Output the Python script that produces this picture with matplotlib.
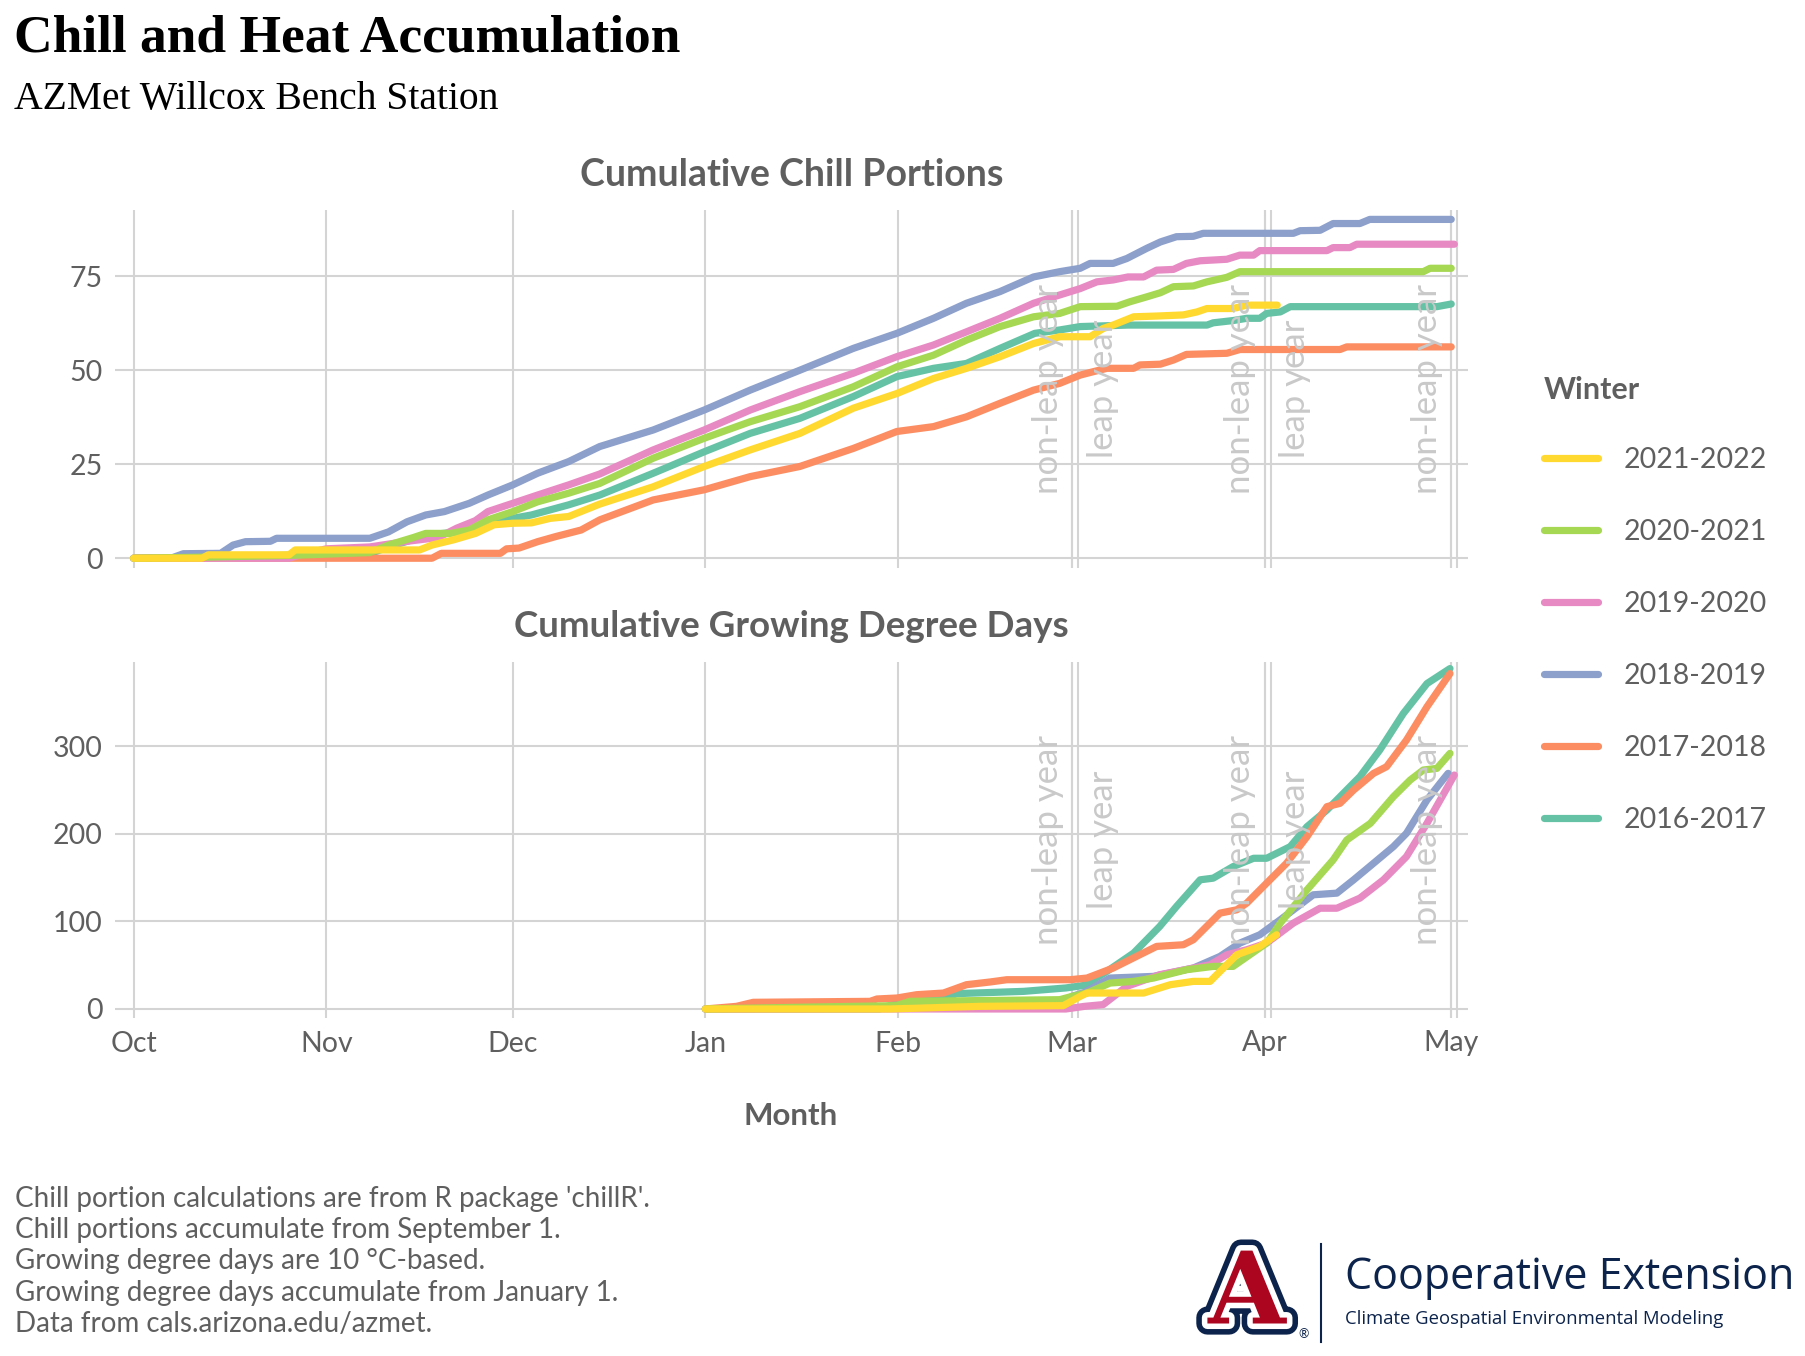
import matplotlib
matplotlib.use("Agg")
import matplotlib.pyplot as plt
import matplotlib.patheffects as pe
from matplotlib.lines import Line2D

plt.rcParams['font.family'] = ['Lato', 'DejaVu Sans']

W, H = 1806, 1356
def fx(px):
    return px / W
def fy(py):
    return 1 - py / H

# ---- data (x = days since Oct 1, non-leap reference year) ----
winters = ["2016-2017", "2017-2018", "2018-2019", "2019-2020", "2020-2021", "2021-2022"]
colors = ["#66c2a5", "#fc8d62", "#8da0cb", "#e78ac3", "#a6d854", "#ffd92f"]

month_days = [0, 31, 61, 92, 123, 151, 182, 212]
month_labels = ["Oct", "Nov", "Dec", "Jan", "Feb", "Mar", "Apr", "May"]
nonleap_days = [151, 182, 212]
leap_days = [152, 183, 213]

# cumulative chill portions
cp_days_2016 = [0, 12, 26, 38, 41, 45, 48, 51, 54, 57, 61, 64, 70, 75, 83.6, 91.8, 99.2, 107.2, 115.8, 122.8, 128.7, 134, 139.4, 145, 149, 152.3, 160, 172.7, 173.7, 176.9, 179.1, 181.2, 182.3, 184.5, 186.1, 209.7, 212]
cp_vals_2016 = [0, 0.3, 0.8, 1.2, 3, 5, 6.3, 6.8, 7.5, 9.2, 10.6, 11.5, 14.2, 16.8, 22.6, 28.3, 33.2, 37.2, 43, 48.3, 50.5, 51.8, 55.8, 59.8, 60.7, 61.6, 62, 62, 62.6, 63.2, 63.8, 63.8, 65.1, 65.5, 66.9, 66.9, 67.6]

cp_days_2017 = [0, 48, 49.5, 59, 60, 62, 65, 68, 72, 75, 83.6, 91.8, 99.2, 107.2, 115.8, 122.8, 128.7, 134, 139.4, 144.8, 149, 152.3, 154.4, 156.6, 160.9, 161.9, 165.2, 167.3, 169.4, 175.9, 178, 194.1, 195.2, 212]
cp_vals_2017 = [0, 0, 1.3, 1.3, 2.5, 2.7, 4.4, 5.8, 7.5, 10.2, 15.5, 18.2, 21.7, 24.4, 29.2, 33.7, 35, 37.6, 41.2, 44.7, 46.5, 48.7, 49.6, 50.5, 50.5, 51.4, 51.6, 52.7, 54.2, 54.5, 55.5, 55.5, 56.2, 56.2]

cp_days_2018 = [0, 6, 8, 14, 16, 18, 22, 23, 38, 41, 44, 47, 50, 54, 57, 61, 65, 70, 75, 83.6, 91.8, 99.2, 107.2, 115.8, 122.8, 128.7, 134, 139.4, 144.8, 149, 152.3, 153.9, 157.6, 159.8, 163, 165.2, 167.8, 170.5, 172.1, 186.6, 187.7, 190.9, 193, 197.3, 198.9, 212]
cp_vals_2018 = [0, 0, 1.2, 1.3, 3.5, 4.4, 4.5, 5.3, 5.3, 7, 9.7, 11.5, 12.4, 14.6, 16.8, 19.5, 22.6, 25.7, 29.7, 34.1, 39.4, 44.7, 50, 55.8, 59.8, 63.8, 67.8, 70.9, 74.8, 76.2, 77.1, 78.4, 78.4, 79.7, 82.4, 84.1, 85.5, 85.6, 86.4, 86.4, 87.1, 87.2, 89, 89, 90.1, 90.1]

cp_days_2019 = [0, 25, 27, 31, 38, 44, 49, 52, 55, 57, 61, 65, 70, 75, 83.6, 91.8, 99.2, 107.2, 115.8, 122.8, 128.7, 134, 139.4, 144.8, 149, 152.3, 155, 157.6, 160, 162.5, 164.6, 167.3, 169.4, 171.6, 175.9, 178, 180.2, 181.2, 192, 193, 195.7, 196.8, 212.5]
cp_vals_2019 = [0, 0, 1, 2.5, 3, 4.5, 5.5, 8, 10, 12.4, 14.6, 16.8, 19.5, 22.4, 28.8, 34.1, 39.4, 44.3, 49.2, 53.6, 56.7, 60.2, 63.8, 67.8, 70, 71.7, 73.5, 74, 74.8, 74.8, 76.6, 76.8, 78.4, 79.1, 79.5, 80.6, 80.6, 81.8, 81.8, 82.6, 82.6, 83.5, 83.5]

cp_days_2020 = [0, 12, 26, 38, 41, 45, 47, 51, 54, 57, 61, 65, 70, 75, 83.6, 91.8, 99.2, 107.2, 115.8, 122.8, 128.7, 134, 139.4, 144.8, 149, 152.3, 158.2, 160.3, 163, 165.2, 167.3, 170.5, 172.7, 175.9, 178, 207.5, 208.6, 212]
cp_vals_2020 = [0, 0.3, 0.8, 1.5, 3.5, 5.5, 6.6, 6.6, 7.5, 10.2, 12.4, 15, 17.3, 19.9, 26.6, 31.9, 36.3, 40.3, 45.6, 50.9, 54, 58, 61.6, 64.2, 65.1, 66.9, 67, 68.2, 69.5, 70.6, 72.2, 72.4, 73.5, 74.7, 76.2, 76.2, 77.1, 77.1]

cp_days_2021 = [0, 11, 12, 25, 26, 46, 48, 51.5, 55, 58, 61, 64, 67, 70, 75, 83.6, 91.8, 99.2, 107.2, 115.8, 122.8, 128.7, 134, 139.4, 144.8, 149, 153.9, 156, 157.6, 160.9, 164.6, 168.9, 171.1, 172.7, 176.9, 179.1, 184]
cp_vals_2021 = [0, 0, 0.9, 0.9, 2.2, 2.2, 3.5, 4.9, 6.6, 8.9, 9.3, 9.4, 10.6, 11.1, 14.4, 19, 24.4, 28.8, 33.2, 39.9, 43.8, 47.8, 50.5, 53.6, 57.1, 58.9, 58.9, 61.1, 62, 64.2, 64.4, 64.7, 65.5, 66.4, 66.4, 67.3, 67.3]

# cumulative growing degree days (from Jan 1)
gdd_days_2016 = [92, 120, 122.8, 130.3, 132.4, 143.2, 150, 153, 156.6, 160.9, 165.1, 167.8, 171.6, 173.7, 176.9, 180.2, 182.3, 186.1, 188.8, 192, 197.3, 200.5, 204.3, 208.1, 211.8]
gdd_vals_2016 = [0, 0, 6.8, 11.4, 17.5, 20.1, 24, 27, 42.9, 63.8, 94.2, 117, 147.4, 149.3, 162.5, 172, 172, 185.3, 208.1, 227.1, 265.1, 295.5, 337.3, 371.4, 388.5]

gdd_days_2017 = [92, 97, 99.7, 118.5, 119.6, 122.8, 126, 130.3, 134, 137.8, 140.5, 150.7, 153.4, 157.6, 161.9, 164.6, 168.9, 170.5, 174.8, 177.5, 179.1, 182.3, 185.5, 188.8, 192, 194.1, 196.3, 199.5, 201.6, 204.8, 208.1, 211.8]
gdd_vals_2017 = [0, 3, 7.6, 8.7, 11.4, 12.5, 16.3, 18.2, 27.7, 30.8, 33.4, 33.4, 35.3, 46.7, 61.9, 71.4, 73.3, 79, 109.4, 113.2, 120.8, 143.6, 166.3, 196.7, 230.9, 234.7, 249.9, 268.9, 276.5, 306.9, 344.9, 382.8]

gdd_days_2018 = [92, 125, 140, 149, 151, 153, 157.1, 164.1, 170.5, 174.8, 178, 181.2, 184.5, 189.8, 193.6, 196.3, 199.5, 202.7, 204.8, 208.1, 210.2, 211.5]
gdd_vals_2018 = [0, 1, 3, 5, 14.4, 19, 35.3, 37.2, 46.7, 60, 75.2, 84.7, 101.8, 130.3, 132.2, 147.4, 166.3, 185.3, 200.5, 238.5, 257.5, 268.9]

gdd_days_2019 = [92, 150, 153, 156, 159.8, 165.1, 167.8, 173.2, 175.9, 179.1, 182.3, 186.6, 190.9, 193.6, 197.3, 201.1, 204.8, 208.1, 212.5]
gdd_vals_2019 = [0, 0, 3, 5, 25.8, 39.1, 42.9, 50.5, 61.9, 67.6, 75.2, 98, 115, 115, 126.5, 147.4, 173.9, 211.9, 267]

gdd_days_2020 = [92, 109.9, 122.8, 124.9, 149, 151, 153.4, 157.1, 160.9, 164.1, 169.4, 173.7, 176.9, 179.6, 182.3, 184.5, 188.8, 193, 195.2, 199, 202.7, 205.4, 207.5, 209.7, 211.8]
gdd_vals_2020 = [0, 2.3, 3.8, 8.7, 10.6, 14.4, 18.2, 29.6, 31.5, 35.3, 44.8, 48.6, 48.6, 61.9, 75.2, 98, 136, 170.1, 192.9, 211.9, 242.3, 261.3, 272.7, 274.6, 291.7]

gdd_days_2021 = [92, 121.7, 136.2, 149.6, 152.3, 153.4, 162.5, 166.8, 170.5, 173.2, 177.5, 181.2, 183.9]
gdd_vals_2021 = [0, 0, 3, 3.8, 14.4, 18.2, 18.2, 27.7, 31.5, 31.5, 61.9, 71.4, 84.7]

cp_days = [cp_days_2016, cp_days_2017, cp_days_2018, cp_days_2019, cp_days_2020, cp_days_2021]
cp_vals = [cp_vals_2016, cp_vals_2017, cp_vals_2018, cp_vals_2019, cp_vals_2020, cp_vals_2021]
gdd_days = [gdd_days_2016, gdd_days_2017, gdd_days_2018, gdd_days_2019, gdd_days_2020, gdd_days_2021]
gdd_vals = [gdd_vals_2016, gdd_vals_2017, gdd_vals_2018, gdd_vals_2019, gdd_vals_2020, gdd_vals_2021]

grid_col = "#d4d4d4"
text_col = "#5f5f5f"
xmin, xmax = -3, 214.7

fig = plt.figure(figsize=(W / 100, H / 100), dpi=100)
ax1 = fig.add_axes([fx(115), fy(568), fx(1468) - fx(115), fy(210) - fy(568)])
ax2 = fig.add_axes([fx(115), fy(1018), fx(1468) - fx(115), fy(662) - fy(1018)])

def style(ax, yticks, ylim):
    ax.set_xlim(xmin, xmax)
    ax.set_ylim(*ylim)
    ax.set_xticks(month_days)
    ax.set_yticks(yticks)
    ax.grid(True, color=grid_col, lw=1.5)
    ax.set_axisbelow(True)
    for s in ax.spines.values():
        s.set_visible(False)
    ax.tick_params(length=0, colors=text_col, labelsize=20.5, pad=9)
    for d in nonleap_days + leap_days:
        ax.axvline(d, color=grid_col, lw=1.5, zorder=0)
    for d in nonleap_days:
        ax.annotate("non-leap year", xy=(d, 0.5), xycoords=("data", "axes fraction"),
                    xytext=(-6, 0), textcoords="offset points", rotation=90,
                    ha="right", va="center", color="#c9c9c9", fontsize=25,
                    annotation_clip=False, clip_on=True)
    for d in leap_days:
        if d >= xmax - 2:
            continue
        ax.annotate("leap year", xy=(d, 0.5), xycoords=("data", "axes fraction"),
                    xytext=(6, 0), textcoords="offset points", rotation=90,
                    ha="left", va="center", color="#c9c9c9", fontsize=25,
                    annotation_clip=False, clip_on=True)

style(ax1, [0, 25, 50, 75], (-2.6, 92.6))
style(ax2, [0, 100, 200, 300], (-10.3, 396))
ax1.set_xticklabels([])
ax2.set_xticklabels(month_labels)

handles = []
for i in range(len(winters)):
    ax1.plot(cp_days[i], cp_vals[i], color=colors[i], lw=5.2,
             solid_capstyle="round", solid_joinstyle="round")
    h, = ax2.plot(gdd_days[i], gdd_vals[i], color=colors[i], lw=5.2,
                  solid_capstyle="round", solid_joinstyle="round", label=winters[i])
    handles.append(h)

ax1.set_title("Cumulative Chill Portions", fontsize=27, fontweight="bold", color=text_col, pad=17)
ax2.set_title("Cumulative Growing Degree Days", fontsize=26.5, fontweight="bold", color=text_col, pad=18)
fig.text(fx(791), fy(1116), "Month", ha="center", va="center", fontsize=22.5,
         fontweight="bold", color=text_col)

leg = fig.legend(handles[::-1], winters[::-1], title="Winter", loc="upper left",
                 bbox_to_anchor=(fx(1518), fy(350)), frameon=False, fontsize=20.5,
                 handlelength=1.9, handletextpad=0.9, labelspacing=1.62,
                 alignment="left", title_fontproperties={"weight": "bold", "size": 22})
leg.get_title().set_color(text_col)
for t in leg.get_texts():
    t.set_color(text_col)
leg._legend_box.sep = 31

# titles
fig.text(fx(14), fy(51), "Chill and Heat Accumulation", fontsize=38.5, fontweight="bold",
         family="Liberation Serif", va="baseline", ha="left", color="black")
fig.text(fx(14), fy(109), "AZMet Willcox Bench Station", fontsize=28.5,
         family="Liberation Serif", va="baseline", ha="left", color="black")

notes = ["Chill portion calculations are from R package 'chillR'.",
         "Chill portions accumulate from September 1.",
         "Growing degree days are 10 \u00b0C-based.",
         "Growing degree days accumulate from January 1.",
         "Data from cals.arizona.edu/azmet."]
for k, line in enumerate(notes):
    fig.text(fx(15), fy(1199 + 31.2 * k), line, fontsize=20, color=text_col, va="center", ha="left")

# logo
navy = "#0c234b"
red = "#ab0520"
fig.text(fx(1247), fy(1296), "A", fontsize=72, fontweight="bold", family="DejaVu Serif",
         color=red, ha="center", va="center",
         path_effects=[pe.Stroke(linewidth=16, foreground=navy),
                       pe.Stroke(linewidth=8, foreground="white"), pe.Normal()])
fig.text(fx(1304), fy(1334), "\u00ae", fontsize=9, color=navy, ha="center", va="center")
fig.add_artist(Line2D([fx(1321), fx(1321)], [fy(1244), fy(1342)], color=navy, lw=1.5))
fig.text(fx(1345), fy(1278), "Cooperative Extension", fontsize=31, color=navy,
         family="Open Sans", ha="left", va="center")
fig.text(fx(1345), fy(1319), "Climate Geospatial Environmental Modeling", fontsize=13.3,
         color=navy, family="Open Sans", ha="left", va="center")

fig.savefig("out.png", dpi=100)
